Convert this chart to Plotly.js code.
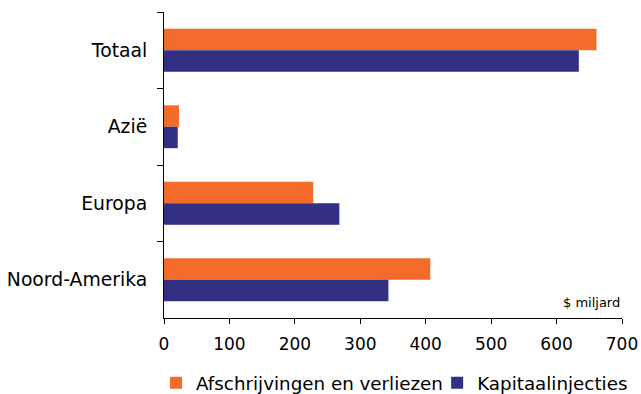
<!DOCTYPE html>
<html>
<head>
<meta charset="utf-8">
<script src="https://cdn.plot.ly/plotly-3.0.1.min.js"></script>
<style>html,body{margin:0;padding:0;background:#fff}#chart{width:641px;height:394px}</style>
</head>
<body>
<div id="chart"></div>
<script>
const categories = ['Totaal', 'Azië', 'Europa', 'Noord-Amerika'];
const afschrijvingen = [661, 23, 228, 407];
const kapitaalinjecties = [634, 21, 268, 343];
const seriesNames = ['Afschrijvingen en verliezen', 'Kapitaalinjecties'];
const xTicks = [0, 100, 200, 300, 400, 500, 600, 700];

const FONT = 'DejaVu Sans, Verdana, sans-serif';
const data = [
  {type: 'bar', orientation: 'h', y: categories, x: afschrijvingen, name: seriesNames[0],
   marker: {color: '#F26B2A'}, hoverinfo: 'skip', legend: 'legend'},
  {type: 'bar', orientation: 'h', y: categories, x: kapitaalinjecties, name: seriesNames[1],
   marker: {color: '#333083'}, hoverinfo: 'skip', legend: 'legend2'}
];
const legendCommon = {orientation: 'h', xanchor: 'left', xref: 'container',
  y: 0.028, yanchor: 'middle', yref: 'container',
  font: {family: FONT, size: 18.3}, itemwidth: 30, bgcolor: 'rgba(0,0,0,0)'};
const layout = {
  width: 641, height: 394,
  margin: {l: 164, r: 19, t: 12, b: 76, autoexpand: false},
  paper_bgcolor: '#fff', plot_bgcolor: '#fff',
  font: {family: FONT, size: 17, color: '#000'},
  barmode: 'group', bargap: 0.44, bargroupgap: 0,
  xaxis: {range: [0, 700], tickvals: xTicks, ticktext: xTicks.map(String),
          tickfont: {family: FONT, size: 17},
          showgrid: false, zeroline: false, showline: true, linecolor: '#000', linewidth: 1,
          ticks: 'outside', ticklen: 5, tickcolor: '#000', ticklabelstandoff: 6, fixedrange: true},
  yaxis: {type: 'category', range: [3.5, -0.5], showgrid: false, zeroline: false,
          tickfont: {family: FONT, size: 18.8},
          showline: true, linecolor: '#000', linewidth: 1,
          ticks: 'outside', tickson: 'boundaries', ticklen: 6, tickcolor: '#000',
          ticklabelstandoff: 12, fixedrange: true},
  showlegend: true,
  legend: Object.assign({}, legendCommon, {x: 0.2434}),
  legend2: Object.assign({}, legendCommon, {x: 0.682}),
  annotations: [{text: '$ miljard', xref: 'paper', yref: 'paper', x: 1, y: 0.02,
                 xanchor: 'right', yanchor: 'bottom', showarrow: false,
                 font: {family: FONT, size: 13, color: '#000'}}]
};
Plotly.newPlot('chart', data, layout, {displayModeBar: false, staticPlot: true});
</script>
</body>
</html>
